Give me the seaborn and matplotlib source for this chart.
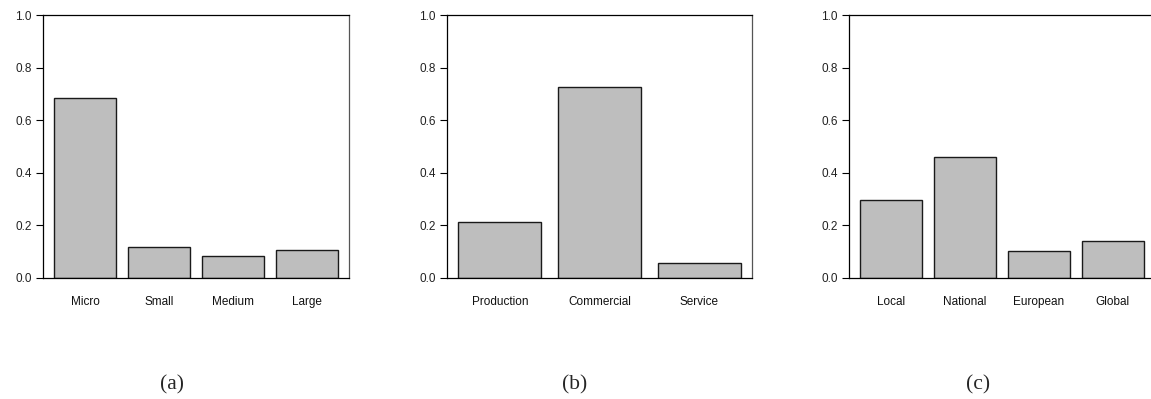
import matplotlib
matplotlib.use("Agg")
import matplotlib.pyplot as plt
import pandas as pd
import seaborn as sns

# ---------------------------------------------------------------------------
# Data (shares)
# ---------------------------------------------------------------------------
size_cats = ["Micro", "Small", "Medium", "Large"]
size_vals = [0.684, 0.118, 0.084, 0.107]

sector_cats = ["Production", "Commercial", "Service"]
sector_vals = [0.213, 0.726, 0.058]

market_cats = ["Local", "National", "European", "Global"]
market_vals = [0.297, 0.460, 0.103, 0.141]

panel_tags = ["(a)", "(b)", "(c)"]
y_ticks = [0.0, 0.2, 0.4, 0.6, 0.8, 1.0]

sns.set_theme(style="white")
plt.rcParams.update({
    "font.family": ["Liberation Sans", "DejaVu Sans"],
    "axes.linewidth": 0.9,
    "axes.edgecolor": "black",
})

BAR_FILL = "#bebebe"
BAR_W = 1 / 1.2   # R barplot default: width 1, space 0.2

fig = plt.figure(figsize=(11.51, 3.99), dpi=100)

# axes boxes in pixel terms (left, width) -> figure fractions
W, H = 1151, 399
boxes = [(43, 306), (447, 305), (849, 306)]
bottom_px, top_px = 278, 15
tag_x = [172, 575, 978]

panels = [
    (size_cats, size_vals),
    (sector_cats, sector_vals),
    (market_cats, market_vals),
]

for (cats, vals), (lx, wx), tag, tx in zip(panels, boxes, panel_tags, tag_x):
    ax = fig.add_axes([lx / W, (H - bottom_px) / H, wx / W, (bottom_px - top_px) / H])
    df = pd.DataFrame({"cat": cats, "val": vals})

    sns.barplot(data=df, x="cat", y="val", color=BAR_FILL, width=BAR_W,
                edgecolor="#1a1a1a", linewidth=1.0, saturation=1, ax=ax)

    n = len(cats)
    # R-style x range: [0.2, 1.2n] padded by 4%, mapped to category units
    lo, hi = 0.2, 1.2 * n
    pad = 0.04 * (hi - lo)
    ax.set_xlim((lo - pad - 0.7) / 1.2, (hi + pad - 0.7) / 1.2)
    ax.set_ylim(0, 1)

    ax.set_yticks(y_ticks)
    ax.set_yticklabels([f"{t:.1f}" for t in y_ticks], fontsize=8.5, color="#222222")
    ax.tick_params(axis="y", left=True, length=5, width=0.8, pad=3, color="black")
    ax.tick_params(axis="x", bottom=False, labelsize=8.5, pad=7, labelcolor="#111111")
    ax.set_xlabel("")
    ax.set_ylabel("")
    for s in ax.spines.values():
        s.set_visible(True)
        s.set_color("black")
    ax.spines["right"].set_color("#555555")

    fig.text(tx / W, (H - 385) / H, tag, ha="center", va="center",
             fontsize=15.5, family=["Liberation Serif", "DejaVu Serif"])

fig.savefig("out.png", dpi=100)
